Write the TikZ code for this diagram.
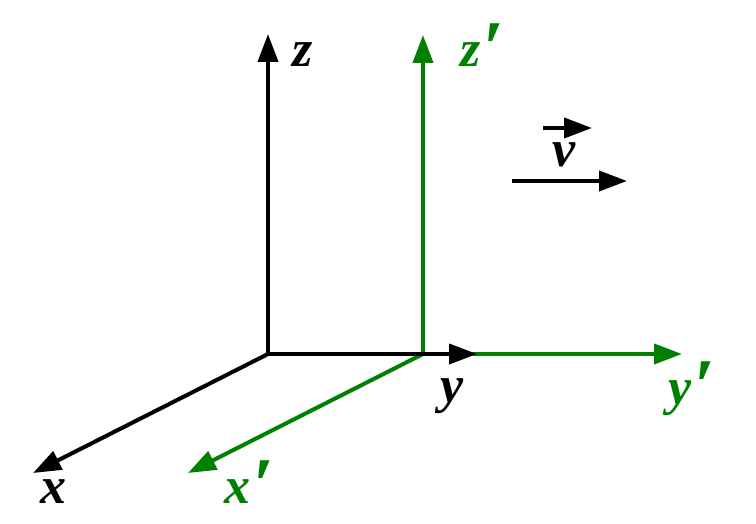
\documentclass[tikz,border=0pt]{standalone}
\usepackage{fontspec}
\setmainfont{Liberation Serif}
\usetikzlibrary{arrows.meta}
\definecolor{axgreen}{RGB}{0,128,0}
\newcommand{\bigprime}{\hspace{2pt}\raisebox{-7pt}{\fontsize{76}{76}\selectfont ′}}
\begin{document}
\begin{tikzpicture}[x=1pt,y=-1pt,
  axis/.style={line width=4pt, -{Triangle[length=28pt,width=20pt]}},
  lab/.style={font=\fontsize{52}{60}\selectfont\bfseries\itshape, inner sep=0pt, anchor=base west},
  gr/.style={color=axgreen, text=axgreen}]
\useasboundingbox (0,0) rectangle (756,524);
% key points
\coordinate (O) at (268,354);
\coordinate (O2) at (423,354);
\coordinate (zt) at (268,34);
\coordinate (yt) at (477,354);
\coordinate (xt) at (33,473);
\coordinate (zt2) at (423,35);
\coordinate (yt2) at (682,354);
\coordinate (xt2) at (188,473);
\coordinate (v1s) at (543,128);
\coordinate (v1e) at (592,128);
\coordinate (v2s) at (512,181);
\coordinate (v2e) at (627,181);
% green frame
\draw[axis,gr] (O2) -- (yt2);
\draw[axis,gr] (O2) -- (zt2);
\draw[axis,gr] (O2) -- (xt2);
% black frame
\draw[axis] (O) -- (zt);
\draw[axis] (O) -- (yt);
\draw[axis] (O) -- (xt);
% velocity
\draw[axis] (v1s) -- (v1e);
\draw[axis] (v2s) -- (v2e);
% labels
\node[lab] (lz) at (292,67) {z};
\node[lab,gr] (lz2) at (460,67) {z\bigprime};
\node[lab] (ly) at (440,402) {y};
\node[lab,gr] (ly2) at (668,404) {y\bigprime};
\node[lab] (lx) at (40,503) {x};
\node[lab,gr] (lx2) at (224,503) {x\bigprime};
\node[lab] (lv) at (552,167) {v};
\end{tikzpicture}
\end{document}
